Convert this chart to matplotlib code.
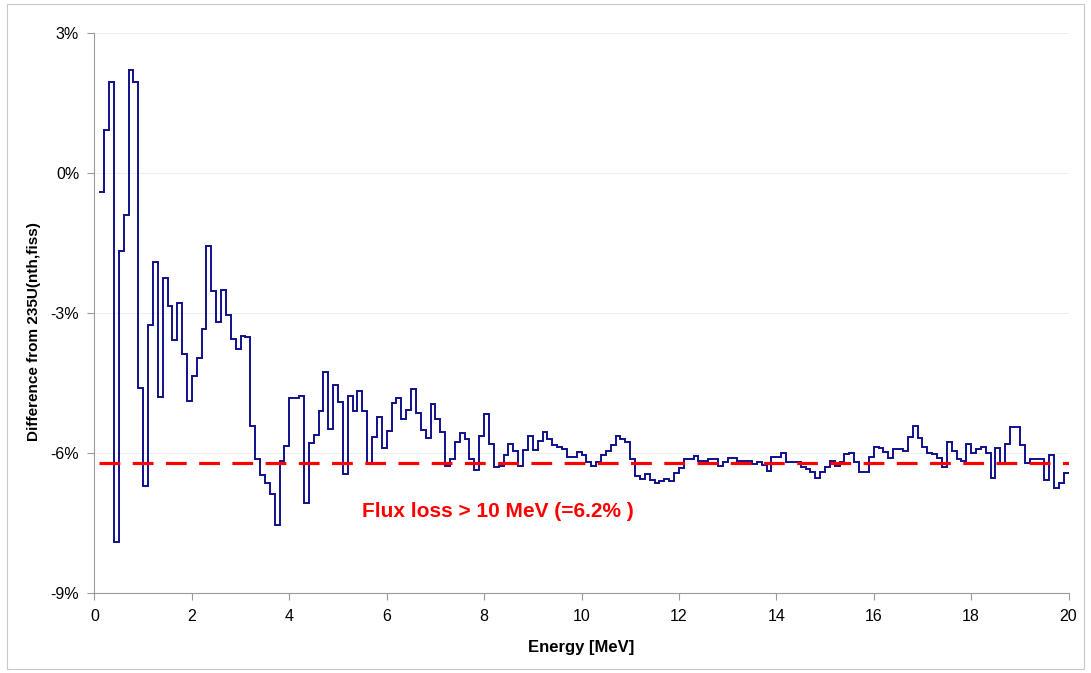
import numpy as np
import matplotlib
matplotlib.use('Agg')
from matplotlib import pyplot as plt
from matplotlib.ticker import FuncFormatter
from matplotlib.patches import Rectangle

plt.rcParams['font.family'] = ['Liberation Sans', 'DejaVu Sans']

# 0.1 MeV energy bins from 0.1 to 20 MeV
edges = np.round(np.arange(1, 201) * 0.1, 1)

# difference from 235U(nth,fiss) spectrum in each bin, in %
diff = [
    -0.40, 0.93, 1.96, -7.90, -1.66, -0.89, 2.21, 1.96, -4.60, -6.69,
    -3.25, -1.89, -4.79, -2.24, -2.84, -3.57, -2.78, -3.87, -4.88, -4.34,
    -3.96, -3.33, -1.56, -2.52, -3.18, -2.51, -3.03, -3.55, -3.77, -3.49,
    -3.50, -5.41, -6.13, -6.46, -6.63, -6.88, -7.53, -6.17, -5.84, -4.81,
    -4.81, -4.78, -7.07, -5.77, -5.61, -5.10, -4.26, -5.48, -4.54, -4.89,
    -6.44, -4.78, -5.09, -4.66, -5.09, -6.21, -5.66, -5.23, -5.88, -5.53,
    -4.92, -4.81, -5.27, -5.07, -4.63, -5.14, -5.50, -5.67, -4.95, -5.26,
    -5.54, -6.27, -6.12, -5.75, -5.56, -5.69, -6.12, -6.35, -5.62, -5.15,
    -5.80, -6.29, -6.27, -6.03, -5.79, -5.94, -6.27, -5.93, -5.63, -5.93,
    -5.73, -5.54, -5.69, -5.82, -5.86, -5.91, -6.08, -6.07, -5.98, -6.04,
    -6.18, -6.27, -6.19, -6.04, -5.96, -5.82, -5.62, -5.69, -5.75, -6.13,
    -6.49, -6.54, -6.44, -6.57, -6.64, -6.59, -6.54, -6.59, -6.43, -6.31,
    -6.13, -6.13, -6.05, -6.16, -6.16, -6.13, -6.13, -6.27, -6.19, -6.09,
    -6.09, -6.16, -6.16, -6.16, -6.22, -6.18, -6.24, -6.38, -6.08, -6.08,
    -5.99, -6.19, -6.19, -6.18, -6.29, -6.33, -6.39, -6.52, -6.40, -6.29,
    -6.16, -6.27, -6.19, -6.02, -6.00, -6.19, -6.39, -6.39, -6.08, -5.86,
    -5.89, -5.98, -6.09, -5.90, -5.90, -5.94, -5.64, -5.41, -5.67, -5.86,
    -5.99, -6.02, -6.09, -6.30, -5.76, -5.94, -6.13, -6.16, -5.79, -5.99,
    -5.90, -5.87, -5.99, -6.53, -5.89, -6.20, -5.81, -5.44, -5.44, -5.82,
    -6.20, -6.12, -6.12, -6.12, -6.57, -6.03, -6.74, -6.63, -6.43,
]

flux_loss = 6.2  # % of flux above 10 MeV
y_ticks = [3, 0, -3, -6, -9]
x_ticks = [0, 2, 4, 6, 8, 10, 12, 14, 16, 18, 20]

fig = plt.figure(figsize=(10.91, 6.73), dpi=100)
ax = fig.add_axes([0.0866, 0.1184, 0.8928, 0.8321])

# chart border
fig.patches.append(Rectangle((0.006, 0.006), 0.988, 0.988, transform=fig.transFigure,
                             fill=False, edgecolor='#c8c8c8', linewidth=0.8))

ax.stairs(diff, edges, baseline=None, color='#10108a', linewidth=1.4, zorder=3)
ax.plot([edges[0], edges[-1]], [-flux_loss, -flux_loss], color='#ff0000',
        linewidth=2.3, dashes=(6.5, 3.9), zorder=4)
ax.text(5.5, -7.25, 'Flux loss > 10 MeV (=%.1f%% )' % flux_loss, color='#ff0000',
        fontsize=15, fontweight='bold', ha='left', va='center')

ax.set_xlim(0, 20)
ax.set_ylim(-9, 3)
ax.set_xticks(x_ticks)
ax.set_yticks(y_ticks)
ax.yaxis.set_major_formatter(FuncFormatter(lambda v, p: '%d%%' % v))
ax.tick_params(direction='out', length=5, width=0.8, color='#9a9a9a',
               labelsize=11.5, pad=6)
ax.grid(axis='y', color='#eeeeee', linewidth=0.8)
ax.set_axisbelow(True)
for s in ['top', 'right']:
    ax.spines[s].set_visible(False)
for s in ['left', 'bottom']:
    ax.spines[s].set_color('#9a9a9a')
    ax.spines[s].set_linewidth(0.8)

ax.set_xlabel('Energy [MeV]', fontsize=12, fontweight='bold', labelpad=12)
ax.set_ylabel('Difference from 235U(nth,fiss)', fontsize=11, fontweight='bold')
ax.yaxis.set_label_coords(-0.055, 0.468)

fig.savefig('out.png', dpi=100)
